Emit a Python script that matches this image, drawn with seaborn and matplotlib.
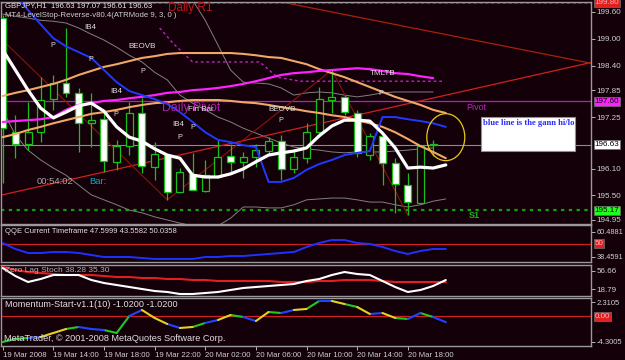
import numpy as np
import pandas as pd
import matplotlib
matplotlib.use("Agg")
import matplotlib.pyplot as plt
import matplotlib.transforms as mtransforms
from matplotlib.patches import Rectangle, Ellipse
import seaborn as sns

# ---------------- data ----------------
time_labels = ["19 Mar 2008", "19 Mar 14:00", "19 Mar 18:00", "19 Mar 22:00",
               "20 Mar 02:00", "20 Mar 06:00", "20 Mar 10:00", "20 Mar 14:00", "20 Mar 18:00"]
time_label_bars = [0, 4, 8, 12, 16, 20, 24, 28, 32]

opens = [199.46, 196.91, 196.65, 196.91, 197.65, 198.01, 197.79, 197.11, 197.20, 196.25,
         196.60, 197.34, 196.13, 196.40, 195.58, 195.98, 195.60, 195.91, 196.38, 196.25,
         196.36, 196.49, 196.71, 196.09, 196.33, 196.91, 197.63, 197.70, 197.34, 196.40,
         196.83, 196.22, 195.73, 195.33, 196.63]
highs = [199.53, 197.29, 197.58, 198.14, 198.19, 199.24, 197.90, 197.79, 197.36, 196.74,
         197.58, 197.67, 196.69, 196.40, 196.11, 196.45, 196.29, 196.74, 196.65, 196.47,
         196.65, 196.80, 196.85, 196.54, 197.11, 197.92, 198.30, 197.74, 197.41, 196.89,
         196.89, 196.33, 196.00, 196.62, 196.74]
lows = [195.78, 196.33, 196.51, 196.69, 197.41, 197.70, 196.47, 196.58, 196.02, 196.07,
        196.40, 196.00, 195.84, 195.40, 195.58, 195.62, 195.58, 195.89, 196.02, 195.89,
        196.13, 196.40, 195.84, 196.00, 196.22, 196.80, 197.34, 197.29, 196.36, 196.29,
        195.73, 195.11, 195.06, 195.33, 196.38]
closes = [197.00, 196.65, 196.91, 197.63, 198.01, 197.79, 197.11, 197.18, 196.27, 196.60,
          197.34, 196.16, 196.42, 195.58, 196.02, 195.62, 195.95, 196.36, 196.25, 196.36,
          196.51, 196.71, 196.09, 196.36, 196.91, 197.65, 197.70, 197.36, 196.45, 196.83,
          196.22, 195.75, 195.35, 196.60, 196.63]

white_ma = [198.75, 198.30, 197.85, 197.45, 197.23, 197.36, 197.50, 197.56, 197.38, 197.03,
            196.80, 196.71, 196.54, 196.40, 196.33, 195.95, 195.91, 195.91, 195.98, 196.09,
            196.25, 196.40, 196.45, 196.49, 196.56, 196.83, 197.05, 197.18, 197.18, 197.16,
            196.89, 196.56, 196.11, 196.13, 196.11, 196.18]
gann_hilo = [200.42, 199.99, 199.64, 199.32, 199.01, 198.83, 198.70, 198.57, 198.30, 198.03,
             197.83, 197.74, 197.65, 197.54, 197.36, 197.14, 196.91, 196.74, 196.69, 196.62,
             196.58, 195.80, 195.80, 195.89, 196.07, 196.20, 196.29, 196.40, 196.45, 196.49,
             197.25, 197.25, 197.20, 197.16, 197.11, 197.03]
orange_upper = [197.72, 197.79, 197.85, 197.92, 197.99, 198.08, 198.19, 198.28, 198.37, 198.43,
                198.50, 198.57, 198.61, 198.66, 198.68, 198.68, 198.68, 198.68, 198.68, 198.66,
                198.63, 198.59, 198.57, 198.50, 198.43, 198.32, 198.23, 198.14, 198.03, 197.92,
                197.81, 197.70, 197.61, 197.52, 197.41, 197.34]
orange_lower = [196.80, 196.87, 196.96, 197.03, 197.11, 197.18, 197.25, 197.32, 197.36, 197.41,
                197.47, 197.52, 197.56, 197.58, 197.61, 197.63, 197.63, 197.63, 197.61, 197.58,
                197.56, 197.52, 197.47, 197.43, 197.38, 197.34, 197.29, 197.25, 197.18, 197.11,
                197.03, 196.91, 196.76, 196.60, 196.47, 196.33]
magenta_ma = [197.14, 197.16, 197.18, 197.20, 197.25, 197.41, 197.52, 197.56, 197.61, 197.63,
              197.67, 197.70, 197.74, 197.79, 197.81, 197.85, 197.87, 197.90, 197.94, 197.99,
              198.05, 198.12, 198.19, 198.23, 198.25, 198.28, 198.30, 198.32, 198.34, 198.32,
              198.28, 198.23, 198.21, 198.16, 198.12]
gray_upper = [199.55, 199.50, 199.46, 199.41, 199.39, 199.35, 199.24, 199.10, 198.97, 198.81,
              198.63, 198.48, 198.25, 198.08, 197.74, 197.56, 197.41, 197.25, 197.14, 197.00,
              196.89, 196.78, 196.67, 196.58, 196.54, 196.51, 196.47, 196.45, 196.47, 196.47,
              196.47, 196.49, 196.51, 196.54, 196.56]
gray_second = [np.nan] * 14 + [200.31, 199.86, 199.41, 198.86, 198.30, 198.03, 198.01, 197.99,
                               197.90, 197.74, 197.79, 197.81, 197.79, 197.74, 197.70, 197.74,
                               197.79, 197.81, 197.81, 197.81, 197.81]
gray_lower = [197.41, 196.85, 196.51, 196.29, 196.11, 195.95, 195.73, 195.51, 195.40, 195.29,
              195.17, 195.11, 195.02, 194.95, 194.88, 194.82, 194.77, 194.82, 194.99, 195.24,
              195.24, 195.22, 195.22, 195.29, 195.40, 195.42, 195.44, 195.44, 195.40, 195.35,
              195.35, 195.29, 195.24, 195.29, 195.37, 195.42]

trend1_bars = [-0.2, 46.5]
trend1_prices = [195.50, 198.47]
trend2_bars = [21.3, 46.5]
trend2_prices = [199.86, 198.45]
zigzag_bars = [-1, 13, 26, 32]
zigzag_prices = [199.24, 195.40, 198.30, 195.06]
dash_bars = [12.4, 13.45, 15.0, 20.3, 21.7, 23.5, 34.8]
dash_prices = [199.24, 198.90, 198.48, 198.48, 198.14, 198.05, 198.05]

daily_r1 = 199.80
daily_pivot = 197.60
daily_s1 = 195.17
last_price = 196.63
price_ticks = [199.60, 199.00, 198.40, 197.85, 197.25, 196.10, 195.50, 194.95]

qqe = [50.53, 45.25, 41.73, 41.73, 42.61, 42.61, 41.73, 39.96, 38.20, 38.20,
       38.20, 37.32, 36.44, 36.44, 36.44, 36.44, 38.20, 38.20, 39.08, 39.08,
       39.96, 40.84, 41.73, 42.61, 47.01, 50.53, 53.18, 53.18, 50.53, 49.65,
       47.01, 43.49, 40.84, 43.49, 45.25, 45.25]
qqe_level = 50
qqe_ticks = [60.4881, 38.4591]

stoch_main = [62.16, 45.87, 33.65, 39.76, 47.90, 47.90, 47.90, 37.73, 31.62, 27.55,
              23.47, 19.40, 15.33, 13.30, 9.22, 9.22, 11.26, 13.30, 17.37, 21.44,
              23.47, 25.51, 27.55, 29.58, 35.69, 39.76, 47.90, 54.01, 49.94, 47.90,
              35.69, 23.47, 13.30, 17.37, 25.51, 37.73]
stoch_signal = [64.19, 58.09, 54.01, 51.98, 49.94, 47.90, 47.90, 47.90, 45.87, 43.83,
                43.83, 41.80, 41.80, 39.76, 39.76, 37.73, 37.73, 35.69, 35.69, 35.69,
                35.69, 35.69, 33.65, 33.65, 33.65, 35.69, 35.69, 37.73, 37.73, 37.73,
                35.69, 33.65, 33.65, 33.65, 33.65, 33.65]
stoch_ticks = [56.66, 18.79]

momentum = [-4.35, -3.85, -3.68, -3.51, -2.84, -2.17, -1.83, -2.17, -2.34, -2.84,
            0.01, 1.02, -0.32, -1.33, -2.00, -1.83, -1.16, -0.66, 0.18, -0.16,
            -0.83, 0.68, 0.51, 1.02, 1.19, 2.53, 2.53, 2.02, 1.52, 0.35,
            0.51, -0.32, -0.49, 0.51, -0.16, -1.02]
momentum_seg_colors = ["g", "g", "b", "y", "y", "g", "b", "b", "g", "g",
                       "b", "y", "y", "b", "y", "g", "b", "y", "g", "b",
                       "y", "g", "b", "y", "g", "b", "y", "g", "y", "b",
                       "y", "g", "b", "g", "b"]
mom_ticks = [2.3105, -4.3005]

# ---------------- style ----------------
BG = "#130009"
sns.set_theme(style="dark", rc={"axes.facecolor": BG, "figure.facecolor": BG,
                                "axes.edgecolor": "#9a9a9a", "axes.linewidth": 1.0,
                                "xtick.color": "#cfcfcf", "ytick.color": "#cfcfcf",
                                "text.color": "#d8d8d8"})
plt.rcParams["font.family"] = ["Liberation Sans", "DejaVu Sans"]

W, H = 625, 360
fig = plt.figure(figsize=(6.25, 3.6), dpi=100)


def rect(x0, y0, x1, y1):
    return [x0 / W, 1 - y1 / H, (x1 - x0) / W, (y1 - y0) / H]


def ftxt(x, y, s, **kw):
    fig.text(x / W, 1 - y / H, s, va="top", ha="left", **kw)


PX_PER_BAR = 12.66
X0 = 2.7
XLIM = ((1 - X0) / PX_PER_BAR, (591 - X0) / PX_PER_BAR)

ax = fig.add_axes(rect(1, 2, 591, 224))
ax_q = fig.add_axes(rect(1, 225, 591, 262), sharex=ax)
ax_s = fig.add_axes(rect(1, 265, 591, 296), sharex=ax)
ax_m = fig.add_axes(rect(1, 298, 591, 346), sharex=ax)

for a in (ax, ax_q, ax_s, ax_m):
    a.set_facecolor(BG)
    for sp in a.spines.values():
        sp.set_color("#9a9a9a")
        sp.set_linewidth(1.0)
    a.yaxis.tick_right()
    a.tick_params(axis="y", which="both", right=True, left=False, labelright=True,
                  labelleft=False, length=3, width=0.6, pad=1.2, labelsize=5.8,
                  colors="#cfcfcf")
    a.tick_params(axis="x", bottom=False, labelbottom=False)
    a.set_xlim(*XLIM)
    a.grid(False)

# ---------------- main chart ----------------
ax.set_ylim(194.86, 199.82)
nb = len(opens)
bars = np.arange(nb)


def line(a, values, color, lw, ls="-", z=3):
    xs = np.arange(len(values))
    df = pd.DataFrame({"bar": xs, "v": values}).dropna()
    sns.lineplot(data=df, x="bar", y="v", ax=a, color=color, linewidth=lw,
                 linestyle=ls, estimator=None, zorder=z)


# horizontal levels
ax.axhline(daily_r1, color="#b01818", lw=1.2, ls=(0, (2, 1.5)), zorder=1)
ax.axhline(daily_pivot, color="#d010d0", lw=0.9, zorder=1)
ax.axhline(daily_s1, color="#10a010", lw=1.6, ls=(0, (1.5, 2)), zorder=1)
ax.axhline(last_price, color="#8090a0", lw=0.8, zorder=1)

# envelopes / trend lines
line(ax, gray_upper, "#808080", 0.7, z=2)
line(ax, gray_second, "#808080", 0.7, z=2)
line(ax, gray_lower, "#808080", 0.7, z=2)
sns.lineplot(x=trend1_bars, y=trend1_prices, ax=ax, color="#d02020", lw=0.9, zorder=2)
sns.lineplot(x=trend2_bars, y=trend2_prices, ax=ax, color="#a82010", lw=0.9, zorder=2)
sns.lineplot(x=zigzag_bars, y=zigzag_prices, ax=ax, color="#8a1408", lw=0.8,
             sort=False, estimator=None, zorder=2)
sns.lineplot(x=dash_bars, y=dash_prices, ax=ax, color="#c020c0", lw=1.0,
             ls=(0, (2, 2)), sort=False, estimator=None, zorder=2)

# candles
up = np.array(closes) >= np.array(opens)
ax.vlines(bars, lows, highs, color="#18c018", lw=0.9, zorder=4)
body_lo = np.minimum(opens, closes)
body_h = np.maximum(np.abs(np.array(closes) - np.array(opens)), 0.015)
ax.bar(bars[up], body_h[up], bottom=body_lo[up], width=0.55, color=BG,
       edgecolor="#18c018", linewidth=0.9, zorder=5)
ax.bar(bars[~up], body_h[~up], bottom=body_lo[~up], width=0.55, color="white",
       edgecolor="#18c018", linewidth=0.9, zorder=5)

# indicator lines
line(ax, orange_upper, "#f0a868", 1.5, z=6)
line(ax, orange_lower, "#f0a868", 1.5, z=6)
line(ax, magenta_ma, "#ff22ff", 1.6, z=6)
line(ax, gann_hilo, "#2238ff", 1.4, z=7)
line(ax, white_ma, "white", 2.3, z=8)

# yellow circle and note box
ax.add_patch(Ellipse((35.0, 196.80), 3.0, 1.05, fill=False, ec="#e8c818", lw=0.9, zorder=9))
ax.add_patch(Rectangle((37.8, 196.49), 7.4, 0.76, fc="white", ec="#909090", lw=0.8, zorder=9))
ax.text(37.95, 197.20, "blue line is the gann hi/lo", color="#2a2aff", fontsize=6.2,
        family="Liberation Serif", fontweight="bold", va="top", ha="left", zorder=10)

ax.set_yticks(price_ticks)
ax.set_yticklabels([f"{p:.2f}" for p in price_ticks])


def box_label(a, value, text, fc, tc="black"):
    tr = mtransforms.blended_transform_factory(a.transAxes, a.transData)
    a.text(1.006, value, text, transform=tr, ha="left", va="center", fontsize=5.8,
           color=tc, clip_on=False, zorder=20,
           bbox=dict(boxstyle="square,pad=0.12", fc=fc, ec="#707070", lw=0.5))


box_label(ax, daily_r1, f"{daily_r1:.2f}", "#e02020", "#ffb0b0")
box_label(ax, daily_pivot, f"{daily_pivot:.2f}", "#ff20ff")
box_label(ax, last_price, f"{last_price:.2f}", "white")
box_label(ax, daily_s1, f"{daily_s1:.2f}", "#20ff20")

# ---------------- QQE ----------------
ax_q.set_ylim(33.79, 66.39)
ax_q.axhline(qqe_level, color="#d02020", lw=0.9)
line(ax_q, qqe, "#2030ff", 1.4)
ax_q.set_yticks(qqe_ticks)
ax_q.set_yticklabels([f"{v:.4f}" for v in qqe_ticks])
ax_q.tick_params(axis="y", labelsize=5.3, pad=0.8)
box_label(ax_q, qqe_level, "50", "#e02020", "#ffb0b0")

# ---------------- Zero lag stoch ----------------
ax_s.set_ylim(5.15, 68.27)
line(ax_s, stoch_signal, "#e02020", 1.5)
line(ax_s, stoch_main, "white", 1.5)
ax_s.set_yticks(stoch_ticks)
ax_s.set_yticklabels([f"{v:.2f}" for v in stoch_ticks])

# ---------------- Momentum ----------------
ax_m.set_ylim(-5.02, 3.03)
ax_m.axhline(0, color="#d02020", lw=0.9)
rows = []
for i, c in enumerate(momentum_seg_colors):
    rows.append((i, i, momentum[i], c))
    rows.append((i, i + 1, momentum[i + 1], c))
mdf = pd.DataFrame(rows, columns=["seg", "bar", "v", "c"])
sns.lineplot(data=mdf, x="bar", y="v", units="seg", hue="c", estimator=None,
             palette={"g": "#22c822", "y": "#e8d020", "b": "#2244ff"},
             legend=False, ax=ax_m, linewidth=1.5, sort=False)
ax_m.set_yticks(mom_ticks)
ax_m.set_yticklabels([f"{v:.4f}" for v in mom_ticks])
ax_m.tick_params(axis="y", labelsize=5.5, pad=1.0)
box_label(ax_m, 0, "0.00", "#e02020", "#ffb0b0")

ax_m.set_xticks(time_label_bars)
ax_m.set_xticklabels(time_labels, ha="left")
ax_m.tick_params(axis="x", bottom=True, labelbottom=True, length=3, width=0.6,
                 pad=1.5, labelsize=5.6, colors="#cfcfcf")
for a in (ax, ax_q, ax_s, ax_m):
    a.set_xlim(*XLIM)
    a.set_xlabel("")
    a.set_ylabel("")

# ---------------- texts ----------------
ftxt(5, 2, "GBPJPY,H1  196.63 197.07 196.61 196.63", fontsize=5.6, color="#e8e8e8")
ftxt(5, 12, "MT4-LevelStop-Reverse-v80.4(ATRMode 9, 3, 0 )", fontsize=5.6, color="#d0d0d0")
ftxt(168, 2, "Daily R1", fontsize=8.5, color="#c01818")
ftxt(162, 102, "Daily Pivot", fontsize=8.8, color="#b020b0")
ftxt(466, 103, "Pivot", fontsize=6.5, color="#c020c0")
ftxt(469, 211, "S1", fontsize=6.5, color="#20b020", fontweight="bold")
ftxt(37, 177, "00:54:02", fontsize=6.8, color="#a8a8a8")
ftxt(89, 177, "Bar:", fontsize=6.8, color="#10a8c8")
for (x, y, s) in [(84, 24, "IB4"), (128, 43, "BEOVB"), (110, 88, "IB4"), (172, 121, "IB4"),
                  (188, 106, "Fin Bar"), (268, 106, "BEOVB"), (370, 70, "TMLTB")]:
    ftxt(x, y, s, fontsize=5.8, color="#e0e0e0")
for (x, y) in [(50, 42), (88, 56), (140, 68), (113, 111), (190, 124), (177, 134),
               (278, 117), (378, 90)]:
    ftxt(x, y, "P", fontsize=5.2, color="#e0e0e0")
ftxt(5, 228, "QQE Current Timeframe 47.5999 43.5582 50.0358", fontsize=5.5, color="#e0e0e0")
ftxt(5, 267, "Zero Lag Stoch 38.28 35.30", fontsize=6.0, color="#b0b0b0")
ftxt(5, 300, "Momentum-Start-v1.1(10) -1.0200 -1.0200", fontsize=6.6, color="#e0e0e0")
ftxt(4, 334, "MetaTrader, \u00a9 2001-2008 MetaQuotes Software Corp.", fontsize=6.6,
     color="#e0e0e0")

fig.savefig("out.png", dpi=100, facecolor=BG)
